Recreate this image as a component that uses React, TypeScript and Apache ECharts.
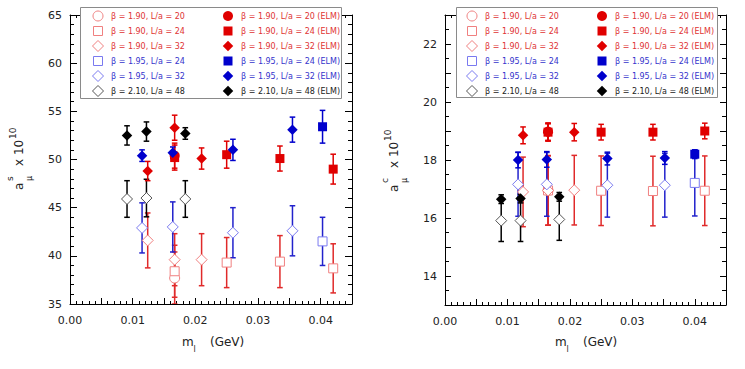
import React, { useEffect, useRef } from 'react';
import * as echarts from 'echarts';

type P = [number, number, number]; // [m_l, value, error]

// ---------- tick labels ----------
const xTickLabels = ['0.00', '0.01', '0.02', '0.03', '0.04'];
const ySTickLabels = [35, 40, 45, 50, 55, 60, 65];
const yCTickLabels = [14, 16, 18, 20, 22];

// ---------- legend names ----------
const names = [
  'β = 1.90, L/a = 20',
  'β = 1.90, L/a = 24',
  'β = 1.90, L/a = 32',
  'β = 1.95, L/a = 24',
  'β = 1.95, L/a = 32',
  'β = 2.10, L/a = 48',
  'β = 1.90, L/a = 20 (ELM)',
  'β = 1.90, L/a = 24 (ELM)',
  'β = 1.90, L/a = 32 (ELM)',
  'β = 1.95, L/a = 24 (ELM)',
  'β = 1.95, L/a = 32 (ELM)',
  'β = 2.10, L/a = 48 (ELM)',
];

// ---------- strange (left panel) ----------
const s190L20: P[] = [[0.0167, 37.7, 2.7]];
const s190L24: P[] = [[0.0167, 38.4, 2.7], [0.025, 39.3, 2.6], [0.0335, 39.4, 2.7], [0.042, 38.7, 2.55]];
const s190L32: P[] = [[0.0124, 41.6, 2.85], [0.0167, 39.6, 2.7], [0.021, 39.6, 2.7]];
const s195L24: P[] = [[0.0403, 41.5, 2.5]];
const s195L32: P[] = [[0.0115, 42.9, 2.6], [0.0164, 43.0, 2.6], [0.026, 42.4, 2.6], [0.0355, 42.6, 2.6]];
const s210L48: P[] = [[0.0091, 45.9, 1.9], [0.0122, 46.0, 1.95], [0.0184, 45.9, 1.9]];
const s190L20E: P[] = [[0.0167, 50.4, 1.3]];
const s190L24E: P[] = [[0.0167, 50.2, 1.3], [0.025, 50.5, 1.4], [0.0335, 50.1, 1.3], [0.042, 49.0, 1.55]];
const s190L32E: P[] = [[0.0124, 48.8, 1.0], [0.0167, 53.3, 1.3], [0.021, 50.1, 1.1]];
const s195L24E: P[] = [[0.0403, 53.4, 1.7]];
const s195L32E: P[] = [[0.0115, 50.4, 0.6], [0.0164, 50.7, 0.6], [0.026, 51.0, 1.1], [0.0355, 53.1, 1.3]];
const s210L48E: P[] = [[0.0091, 52.5, 1.0], [0.0122, 52.9, 1.0], [0.0184, 52.7, 0.6]];

// ---------- charm (right panel) ----------
const c190L20: P[] = [[0.0165, 16.95, 1.2]];
const c190L24: P[] = [[0.0165, 16.95, 1.2], [0.025, 16.94, 1.2], [0.0333, 16.93, 1.2], [0.0416, 16.94, 1.2]];
const c190L32: P[] = [[0.0125, 16.9, 1.2], [0.0165, 16.95, 1.2], [0.0207, 16.96, 1.2]];
const c195L24: P[] = [[0.04, 17.21, 1.14]];
const c195L32: P[] = [[0.0117, 17.16, 1.1], [0.0163, 17.16, 1.1], [0.026, 17.13, 1.1], [0.0352, 17.13, 1.1]];
const c210L48: P[] = [[0.009, 15.91, 0.72], [0.0121, 15.91, 0.72], [0.0183, 15.95, 0.72]];
const c190L20E: P[] = [[0.0165, 18.98, 0.3]];
const c190L24E: P[] = [[0.0165, 18.96, 0.3], [0.025, 18.96, 0.27], [0.0333, 18.96, 0.27], [0.0416, 19.0, 0.27]];
const c190L32E: P[] = [[0.0125, 18.85, 0.29], [0.0165, 18.95, 0.3], [0.0207, 18.96, 0.3]];
const c195L24E: P[] = [[0.04, 18.2, 0.15]];
const c195L32E: P[] = [[0.0117, 18.0, 0.27], [0.0163, 18.02, 0.27], [0.026, 18.05, 0.22], [0.0352, 18.07, 0.22]];
const c210L48E: P[] = [[0.009, 16.65, 0.15], [0.0121, 16.67, 0.15], [0.0183, 16.73, 0.15]];

// ---------- styles ----------
const RED = '#e00000';
const RED_OPEN = '#f08080';
const RED_ERR_OPEN = '#e02a2a';
const RED_TEXT = '#e03333';
const BLUE = '#0000cc';
const BLUE_OPEN = '#7a7af0';
const BLUE_ERR_OPEN = '#2222cc';
const BLUE_TEXT = '#3434cc';
const BLACK = '#000000';
const BLACK_OPEN = '#555555';
const BLACK_TEXT = '#222222';

interface Spec {
  name: string;
  symbol: string;
  size: number;
  filled: boolean;
  color: string;
  err: string;
  text: string;
  s: P[];
  c: P[];
}

const SPECS: Spec[] = [
  { name: names[0], symbol: 'circle', size: 10, filled: false, color: RED_OPEN, err: RED_ERR_OPEN, text: RED_TEXT, s: s190L20, c: c190L20 },
  { name: names[1], symbol: 'rect', size: 9, filled: false, color: RED_OPEN, err: RED_ERR_OPEN, text: RED_TEXT, s: s190L24, c: c190L24 },
  { name: names[2], symbol: 'diamond', size: 11, filled: false, color: RED_OPEN, err: RED_ERR_OPEN, text: RED_TEXT, s: s190L32, c: c190L32 },
  { name: names[3], symbol: 'rect', size: 9, filled: false, color: BLUE_OPEN, err: BLUE_ERR_OPEN, text: BLUE_TEXT, s: s195L24, c: c195L24 },
  { name: names[4], symbol: 'diamond', size: 11, filled: false, color: BLUE_OPEN, err: BLUE_ERR_OPEN, text: BLUE_TEXT, s: s195L32, c: c195L32 },
  { name: names[5], symbol: 'diamond', size: 11, filled: false, color: BLACK_OPEN, err: BLACK, text: BLACK_TEXT, s: s210L48, c: c210L48 },
  { name: names[6], symbol: 'circle', size: 10, filled: true, color: RED, err: RED, text: RED_TEXT, s: s190L20E, c: c190L20E },
  { name: names[7], symbol: 'rect', size: 9, filled: true, color: RED, err: RED, text: RED_TEXT, s: s190L24E, c: c190L24E },
  { name: names[8], symbol: 'diamond', size: 10.5, filled: true, color: RED, err: RED, text: RED_TEXT, s: s190L32E, c: c190L32E },
  { name: names[9], symbol: 'rect', size: 9, filled: true, color: BLUE, err: BLUE, text: BLUE_TEXT, s: s195L24E, c: c195L24E },
  { name: names[10], symbol: 'diamond', size: 10.5, filled: true, color: BLUE, err: BLUE, text: BLUE_TEXT, s: s195L32E, c: c195L32E },
  { name: names[11], symbol: 'diamond', size: 10.5, filled: true, color: BLACK, err: BLACK, text: BLACK_TEXT, s: s210L48E, c: c210L48E },
];

const FONT = 'DejaVu Sans';

function markerStyle(sp: Spec) {
  return sp.filled
    ? { color: sp.color, borderColor: sp.color, borderWidth: 0, opacity: 1 }
    : { color: '#ffffff', borderColor: sp.color, borderWidth: 1, opacity: 1 };
}

// legend icon drawn as a graphic element, centred at (cx, cy)
function legendIcon(sp: Spec, cx: number, cy: number) {
  const style = sp.filled
    ? { fill: sp.color, stroke: null, lineWidth: 0 }
    : { fill: '#ffffff', stroke: sp.color, lineWidth: 1 };
  const h = sp.size / 2;
  if (sp.symbol === 'circle') {
    return { type: 'circle', z: 21, shape: { cx, cy, r: h }, style };
  }
  if (sp.symbol === 'rect') {
    return { type: 'rect', z: 21, shape: { x: cx - h, y: cy - h, width: sp.size, height: sp.size }, style };
  }
  return {
    type: 'polygon',
    z: 21,
    shape: { points: [[cx, cy - h], [cx + h, cy], [cx, cy + h], [cx - h, cy]] },
    style,
  };
}

function buildOption() {
  const axisLine = { show: true, onZero: false, lineStyle: { color: '#000', width: 1 } };
  const tickStyle = { color: '#000', width: 1 };

  const xAxisBase = (gridIndex: number, position: 'bottom' | 'top') => ({
    type: 'value',
    gridIndex,
    position,
    min: 0,
    max: 0.045,
    interval: 0.005,
    axisLine,
    axisTick: { show: true, inside: true, length: 6, lineStyle: tickStyle },
    minorTick: { show: true, splitNumber: 5, length: 3, lineStyle: tickStyle },
    splitLine: { show: false },
    minorSplitLine: { show: false },
    axisLabel: {
      show: position === 'bottom',
      margin: 11,
      fontSize: 11,
      fontFamily: FONT,
      color: '#222',
      formatter: (v: number) => {
        const k = Math.round(v / 0.01);
        return Math.abs(v - k * 0.01) < 1e-6 && k < xTickLabels.length ? xTickLabels[k] : '';
      },
    },
  });

  const yAxisS = (position: 'left' | 'right') => ({
    type: 'value',
    gridIndex: 0,
    position,
    min: ySTickLabels[0],
    max: ySTickLabels[ySTickLabels.length - 1],
    interval: 5,
    axisLine,
    axisTick: { show: true, inside: true, length: 7, lineStyle: tickStyle },
    minorTick: { show: true, splitNumber: 5, length: 4, lineStyle: tickStyle },
    splitLine: { show: false },
    minorSplitLine: { show: false },
    axisLabel: {
      show: position === 'left',
      margin: 8,
      fontSize: 11,
      fontFamily: FONT,
      color: '#222',
      formatter: (v: number) => (ySTickLabels.includes(v) ? String(v) : ''),
    },
  });

  const yAxisC = (position: 'left' | 'right') => ({
    type: 'value',
    gridIndex: 1,
    position,
    min: 13,
    max: 23,
    interval: 1,
    axisLine,
    axisTick: { show: true, inside: true, length: 6, lineStyle: tickStyle },
    minorTick: { show: true, splitNumber: 2, length: 4, lineStyle: tickStyle },
    splitLine: { show: false },
    minorSplitLine: { show: false },
    axisLabel: {
      show: position === 'left',
      margin: 8,
      fontSize: 11,
      fontFamily: FONT,
      color: '#222',
      formatter: (v: number) => (yCTickLabels.includes(v) ? String(v) : ''),
    },
  });

  const series: any[] = [];
  [0, 1].forEach((panel) => {
    SPECS.forEach((sp) => {
      const data = panel === 0 ? sp.s : sp.c;
      series.push({
        type: 'custom',
        name: sp.name + ' err',
        xAxisIndex: panel * 2,
        yAxisIndex: panel * 2,
        data,
        clip: true,
        silent: true,
        z: 2,
        encode: { x: 0, y: 1 },
        renderItem: (_params: any, api: any) => {
          const x = api.value(0);
          const y = api.value(1);
          const e = api.value(2);
          const top = api.coord([x, y + e]);
          const bot = api.coord([x, y - e]);
          const w = 2.8;
          const style = { stroke: sp.err, lineWidth: 1.5 };
          return {
            type: 'group',
            children: [
              { type: 'line', shape: { x1: top[0], y1: top[1], x2: bot[0], y2: bot[1] }, style },
              { type: 'line', shape: { x1: top[0] - w, y1: top[1], x2: top[0] + w, y2: top[1] }, style },
              { type: 'line', shape: { x1: bot[0] - w, y1: bot[1], x2: bot[0] + w, y2: bot[1] }, style },
            ],
          };
        },
      });
      series.push({
        type: 'scatter',
        name: sp.name,
        xAxisIndex: panel * 2,
        yAxisIndex: panel * 2,
        data: data.map((d) => [d[0], d[1]]),
        symbol: sp.symbol,
        symbolSize: sp.size,
        z: sp.filled ? 4 : 3,
        itemStyle: markerStyle(sp),
        emphasis: { disabled: true },
      });
    });
  });

  const LEGEND_TOP = 11;
  const ROW = 15;
  const legendCols = [93, 223, 467, 597];

  const legendCol = (left: number, list: string[]) => ({
    left,
    top: LEGEND_TOP,
    orient: 'vertical',
    padding: 0,
    itemGap: ROW - 10,
    itemWidth: 10,
    itemHeight: 10,
    selectedMode: false,
    z: 20,
    textStyle: { fontSize: 8, fontFamily: FONT, padding: [0, 0, 0, 3], lineHeight: 10 },
    data: list.map((n) => {
      const sp = SPECS.find((s) => s.name === n)!;
      return { name: n, icon: 'none', textStyle: { color: sp.text } };
    }),
  });

  const icons: any[] = [];
  legendCols.forEach((left, ci) => {
    const list = ci % 2 === 0 ? SPECS.slice(0, 6) : SPECS.slice(6);
    list.forEach((sp, i) => icons.push(legendIcon(sp, left + 5, LEGEND_TOP + 5 + i * ROW)));
  });

  const txt = (text: string, x: number, y: number, size: number, extra: any = {}) => ({
    type: 'text',
    x,
    y,
    z: 20,
    style: { text, fontSize: size, fontFamily: FONT, fill: '#222', verticalAlign: 'middle', align: 'left', ...extra },
  });

  const yTitle = (ox: number, oy: number, sup: string) => ({
    type: 'group',
    x: ox,
    y: oy,
    rotation: Math.PI / 2,
    children: [
      txt('a', 0, -4, 12),
      txt(sup, 9, -13, 9),
      txt('μ', 9, 7, 8),
      txt('x 10', 24, -4, 12),
      txt('10', 51, -10, 9),
    ],
  });

  const xTitle = (ox: number) => ({
    type: 'group',
    x: ox,
    y: 0,
    children: [txt('m', 0, 342, 12), txt('l', 11.5, 349, 8), txt('(GeV)', 28, 342, 12)],
  });

  return {
    animation: false,
    backgroundColor: '#ffffff',
    grid: [
      { left: 70, top: 15, width: 282, height: 289 },
      { left: 445, top: 15, width: 281, height: 290 },
    ],
    xAxis: [xAxisBase(0, 'bottom'), xAxisBase(0, 'top'), xAxisBase(1, 'bottom'), xAxisBase(1, 'top')],
    yAxis: [yAxisS('left'), yAxisS('right'), yAxisC('left'), yAxisC('right')],
    legend: [
      legendCol(legendCols[0], names.slice(0, 6)),
      legendCol(legendCols[1], names.slice(6)),
      legendCol(legendCols[2], names.slice(0, 6)),
      legendCol(legendCols[3], names.slice(6)),
    ],
    graphic: {
      elements: [
        { type: 'rect', z: 15, shape: { x: 80.5, y: 7.5, width: 261, height: 91 }, style: { fill: '#fff', stroke: '#8a8a8a', lineWidth: 1 } },
        { type: 'rect', z: 15, shape: { x: 456.5, y: 7.5, width: 261, height: 90 }, style: { fill: '#fff', stroke: '#8a8a8a', lineWidth: 1 } },
        ...icons,
        yTitle(22.5, 190, 's'),
        yTitle(397.5, 192, 'c'),
        xTitle(182),
        xTitle(555),
      ],
    },
    series,
  };
}

export default function App() {
  const ref = useRef<HTMLDivElement>(null);
  useEffect(() => {
    if (!ref.current) return;
    const chart = echarts.init(ref.current, undefined, { renderer: 'svg' });
    chart.setOption(buildOption() as any);
    return () => chart.dispose();
  }, []);
  return (
    <div
      ref={ref}
      style={{ position: 'fixed', left: 0, top: 0, width: 745, height: 369, background: '#fff' }}
    />
  );
}
